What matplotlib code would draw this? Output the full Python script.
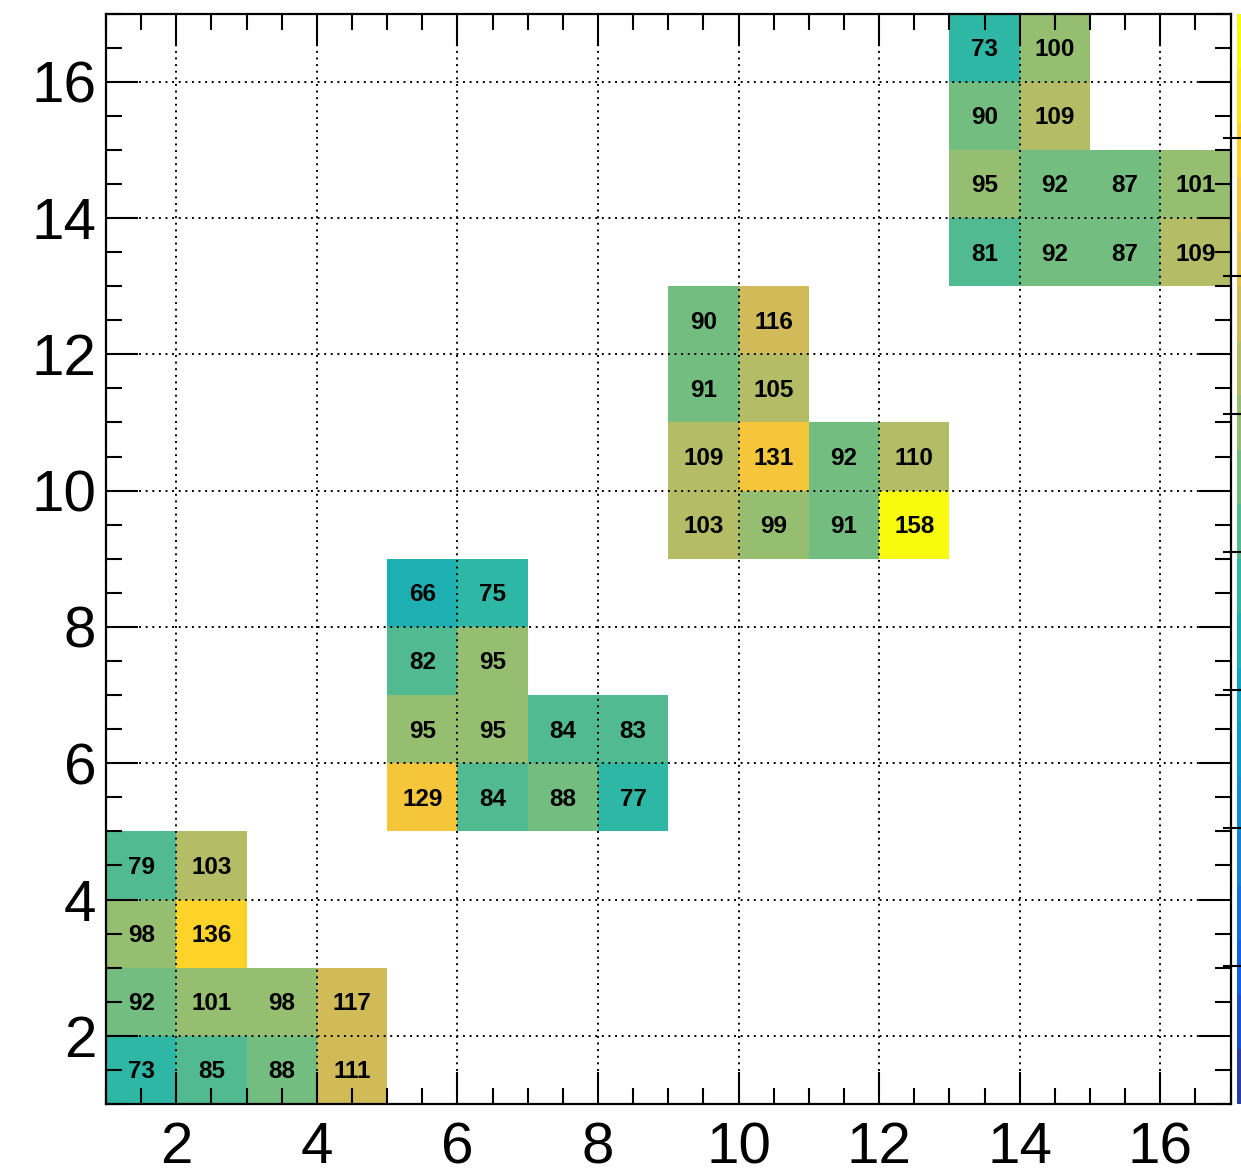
import numpy as np
import matplotlib
matplotlib.use("Agg")
import matplotlib.pyplot as plt
from matplotlib.colors import LinearSegmentedColormap, ListedColormap, BoundaryNorm
from matplotlib.ticker import MultipleLocator

# ---- data: lower-left bin edges and bin contents ----
cell_x = [1, 2, 3, 4, 1, 2, 3, 4, 1, 2, 1, 2,
          5, 6, 7, 8, 5, 6, 7, 8, 5, 6, 5, 6,
          9, 10, 11, 12, 9, 10, 11, 12, 9, 10, 9, 10,
          13, 14, 15, 16, 13, 14, 15, 16, 13, 14, 13, 14]
cell_y = [1, 1, 1, 1, 2, 2, 2, 2, 3, 3, 4, 4,
          5, 5, 5, 5, 6, 6, 6, 6, 7, 7, 8, 8,
          9, 9, 9, 9, 10, 10, 10, 10, 11, 11, 12, 12,
          13, 13, 13, 13, 14, 14, 14, 14, 15, 15, 16, 16]
counts = [73, 85, 88, 111, 92, 101, 98, 117, 98, 136, 79, 103,
          129, 84, 88, 77, 95, 95, 84, 83, 82, 95, 66, 75,
          103, 99, 91, 158, 109, 131, 92, 110, 91, 105, 90, 116,
          81, 92, 87, 109, 95, 92, 87, 101, 90, 109, 73, 100]
x_ticks = [2, 4, 6, 8, 10, 12, 14, 16]
y_ticks = [2, 4, 6, 8, 10, 12, 14, 16]
cbar_ticks = [20, 40, 60, 80, 100, 120, 140]

# ---- ROOT kBird palette, 20 contour levels ----
stops = [0.0, 0.125, 0.25, 0.375, 0.5, 0.625, 0.75, 0.875, 1.0]
red = [0.2082, 0.0592, 0.0780, 0.0232, 0.1802, 0.5301, 0.8186, 0.9956, 0.9764]
green = [0.1664, 0.3599, 0.5041, 0.6419, 0.7178, 0.7492, 0.7328, 0.7862, 0.9832]
blue = [0.5293, 0.8684, 0.8385, 0.7914, 0.6425, 0.4662, 0.3499, 0.1968, 0.0539]
bird = LinearSegmentedColormap.from_list(
    "bird", list(zip(stops, zip(red, green, blue))), N=255)
ndiv = 20
zmin, zmax = 0, max(counts)
level_cols = []
for i in range(ndiv):
    idx = min(int((i + 0.99) * 255 / ndiv), 254)
    level_cols.append(bird(idx / 254.0))
cmap = ListedColormap(level_cols)
norm = BoundaryNorm(np.linspace(zmin, zmax, ndiv + 1), ndiv)

nb = 16
Z = np.full((nb, nb), np.nan)
for x, y, c in zip(cell_x, cell_y, counts):
    Z[y - 1, x - 1] = c
Z = np.ma.masked_invalid(Z)
edges = np.arange(1, nb + 2)

W, H = 1241, 1173
fig = plt.figure(figsize=(W / 100, H / 100), dpi=100)
ax = fig.add_axes([106 / W, (H - 1104) / H, (1230.5 - 106) / W, (1104 - 13.5) / H])

mesh = ax.pcolormesh(edges, edges, Z, cmap=cmap, norm=norm, zorder=1)
for x, y, c in zip(cell_x, cell_y, counts):
    ax.annotate(str(c), (x + 0.5, y + 0.5), xytext=(0, -6.1),
                textcoords="offset points", ha="center", va="baseline",
                fontsize=17.5, fontweight="bold", family="Liberation Sans",
                color="black", zorder=5)

ax.set_xlim(1, 17)
ax.set_ylim(1, 17)
ax.set_xticks(x_ticks)
ax.set_yticks(y_ticks)
ax.xaxis.set_minor_locator(MultipleLocator(0.5))
ax.yaxis.set_minor_locator(MultipleLocator(0.5))
ax.tick_params(which="both", direction="in", top=True, right=True,
               width=1.5, color="black", zorder=4)
ax.tick_params(which="major", length=23)
ax.tick_params(which="minor", length=11.5)
ax.tick_params(axis="x", which="major", pad=12.5)
ax.tick_params(axis="y", which="major", pad=7)
for lab in ax.get_xticklabels() + ax.get_yticklabels():
    lab.set_fontfamily("Liberation Sans")
    lab.set_fontsize(42)
ax.grid(True, which="major", color="black", linestyle=(0, (1, 2.4)),
        linewidth=1.4, zorder=3)
ax.set_axisbelow(False)
for s in ax.spines.values():
    s.set_linewidth(1.6)
    s.set_zorder(6)

# ---- colour palette (mostly outside the canvas) ----
cax = fig.add_axes([1237 / W, (H - 1104) / H, 40 / W, (1104 - 13.5) / H])
cb = fig.colorbar(mesh, cax=cax)
cb.outline.set_visible(False)
cb.set_ticks(cbar_ticks)
cax.yaxis.set_ticks_position("left")
cax.tick_params(which="major", direction="inout", length=20, width=1.5,
                labelleft=False, labelright=False)
cax.minorticks_off()

fig.savefig("out.png", dpi=100)
